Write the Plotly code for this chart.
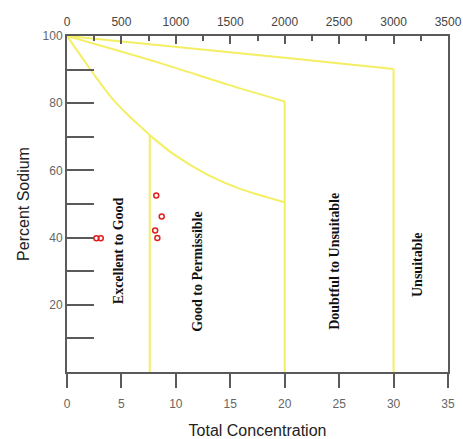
import plotly.graph_objects as go

# Boundary curves (Total concentration, percent sodium)
curve1a_x = [0, 1.4, 2.6, 4.1, 5.7, 6.9, 7.6]
curve1a_y = [100, 93.5, 88.0, 81.6, 76.2, 72.6, 70.5]
curve1b_x = [7.6, 9.75, 12.8, 15.9, 20]
curve1b_y = [70.5, 64.9, 58.9, 54.5, 50.5]
curve2_x = [0, 8.5, 14.7, 20]
curve2_y = [100, 92, 85.6, 80.5]
curve3_x = [0, 20.7, 30]
curve3_y = [100, 93.3, 90.2]
vert_x = [7.6, 20, 30]
vert_top = [70.5, 80.5, 90.2]

# Samples
sample_x = [2.7, 3.1, 8.2, 8.7, 8.1, 8.3]
sample_y = [39.8, 39.8, 52.5, 46.3, 42.1, 39.9]

# Region labels
region_names = ["Excellent to Good", "Good to Permissible", "Doubtful to Unsuitable", "Unsuitable"]
region_x = [4.7, 12.0, 24.5, 32.2]
region_y = [36, 30, 33, 32]

x_ticks = [0, 5, 10, 15, 20, 25, 30, 35]
x_tick_text = ["0", "5", "10", "15", "20", "25", "30", "35"]
top_ticks = [0, 500, 1000, 1500, 2000, 2500, 3000, 3500]
top_tick_text = ["0", "500", "1000", "1500", "2000", "2500", "3000", "3500"]
y_ticks = [10, 20, 30, 40, 50, 60, 70, 80, 90, 100]
y_tick_text = ["", "20", "", "40", "", "60", "", "80", "", "100"]

YEL = "#f4ef62"
AX = "#5a5a5a"

fig = go.Figure()
for cx, cy in [(curve1a_x, curve1a_y), (curve1b_x, curve1b_y), (curve2_x, curve2_y), (curve3_x, curve3_y)]:
    fig.add_trace(go.Scatter(x=cx, y=cy, mode="lines",
                             line=dict(color=YEL, width=2, shape="spline", smoothing=0.8),
                             hoverinfo="skip", showlegend=False))
for vx, vt in zip(vert_x, vert_top):
    fig.add_trace(go.Scatter(x=[vx, vx], y=[vt, 0], mode="lines", line=dict(color=YEL, width=2),
                             hoverinfo="skip", showlegend=False))
fig.add_trace(go.Scatter(x=sample_x, y=sample_y, mode="markers",
                         marker=dict(symbol="circle-open", size=5, color="#e02020", line=dict(width=1.5)),
                         showlegend=False))
# invisible trace for top axis
fig.add_trace(go.Scatter(x=[0, 3500], y=[0, 0], xaxis="x2", mode="markers", marker=dict(opacity=0),
                         hoverinfo="skip", showlegend=False))

for name, rx, ry in zip(region_names, region_x, region_y):
    fig.add_annotation(x=rx, y=ry, text="<b>" + name + "</b>", textangle=-90, showarrow=False,
                       font=dict(family="Liberation Serif", size=14, color="#111"))

fig.update_layout(
    width=463, height=439,
    margin=dict(l=67, r=15, t=36, b=67),
    plot_bgcolor="white", paper_bgcolor="white",
    font=dict(family="Liberation Sans"),
    xaxis=dict(range=[0, 35], tickvals=x_ticks, ticktext=x_tick_text, ticks="outside", ticklen=14,
               tickwidth=2, tickcolor=AX, showline=True, linecolor=AX, linewidth=2, showgrid=False,
               zeroline=False, automargin=False, tickfont=dict(size=12, color="#666"),
               ticklabelstandoff=6,
               title=dict(text="Total Concentration", font=dict(size=16, color="#222"), standoff=14)),
    xaxis2=dict(range=[0, 3500], overlaying="x", side="top", anchor="y", tickvals=top_ticks,
                ticktext=top_tick_text, ticks="inside", ticklen=8, tickwidth=2, tickcolor=AX,
                minor=dict(dtick=250, ticks="inside", ticklen=5, tickwidth=2, tickcolor=AX),
                showline=True, linecolor=AX, linewidth=2, showgrid=False, zeroline=False,
                automargin=False, tickfont=dict(size=12, color="#444"), ticklabelstandoff=3),
    yaxis=dict(range=[0, 100], tickvals=y_ticks, ticktext=y_tick_text, ticks="inside", ticklen=27,
               tickwidth=2, tickcolor=AX, showline=True, linecolor=AX, linewidth=2, showgrid=False,
               zeroline=False, mirror=True, automargin=False, tickfont=dict(size=12, color="#666"),
               title=dict(text="Percent Sodium", font=dict(size=16, color="#222"), standoff=9)),
)

fig.write_html("out.html", config={"displayModeBar": False},
               post_script="document.body.style.margin='0';")
